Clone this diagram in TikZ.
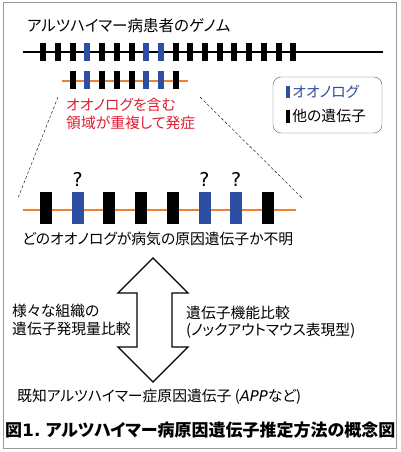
\documentclass[tikz,border=0pt]{standalone}
\usepackage{fontspec}
\setmainfont{Noto Sans CJK JP}[RawFeature=+palt]
\newfontfamily\latinfont{DejaVu Sans}
\usetikzlibrary{positioning}
\definecolor{ohnoblue}{RGB}{46,78,163}
\definecolor{segorange}{RGB}{240,128,48}
\definecolor{notered}{RGB}{222,30,50}
\tikzset{
    every node/.style={inner sep=0pt},
    gene/.style={fill=black, minimum width=6pt, minimum height=18pt},
    ohno/.style={gene, fill=ohnoblue},
    biggene/.style={fill=black, minimum width=12pt, minimum height=32pt},
    bigohno/.style={biggene, fill=ohnoblue},
    label/.style={anchor=west, font=\fontsize{14.8}{17.5}\selectfont},
    zoomline/.style={thin, densely dashed}
}
\begin{document}
\begin{tikzpicture}[x=1pt, y=-1pt]
    \useasboundingbox (0,0) rectangle (400,452);
    \draw[gray!80, line width=1pt] (3,3) rectangle (396,448);

    % genome of the patient
    \node[label, font=\fontsize{15.5}{18}\selectfont] (title) at (27,26) {アルツハイマー病患者のゲノム};
    \coordinate (gl) at (23,52);
    \coordinate (gr) at (383,52);
    \draw[line width=1.2pt] (gl) -- (gr);
    \foreach \i in {0,...,17} {
        \ifnum\i=3 \def\st{ohno}\else\ifnum\i=7 \def\st{ohno}\else\ifnum\i=8 \def\st{ohno}\else\def\st{gene}\fi\fi\fi
        \node[\st] (g\i) at ({43.3+14.7*\i},52) {};
    }

    % duplicated segment
    \coordinate (sl) at (62,81);
    \coordinate (sr) at (188,81);
    \draw[segorange, line width=1.2pt] (sl) -- (sr);
    \foreach \i in {2,...,9} {
        \ifnum\i=3 \def\st{ohno}\else\ifnum\i=7 \def\st{ohno}\else\ifnum\i=8 \def\st{ohno}\else\def\st{gene}\fi\fi\fi
        \node[\st] (s\i) at ({43.3+14.7*\i},80) {};
    }
    \node[label, text=notered, align=left] (dup) at (66,114) {オオノログを含む\\領域が重複して発症};

    % legend
    \node[draw=gray!70!black, rounded corners=8pt, minimum width=109pt, minimum height=56pt] (legend) at (327.5,105) {};
    \node[fill=ohnoblue, minimum width=4pt, minimum height=12pt] (lb) at (288,92) {};
    \node[label, text=ohnoblue, right=2pt of lb] (lbt) {オオノログ};
    \node[fill=black, minimum width=4pt, minimum height=13pt] (lk) at (288,116) {};
    \node[label, right=2pt of lk] (lkt) {他の遺伝子};

    % zoomed segment
    \coordinate (zl) at (23,210);
    \coordinate (zr) at (296,210);
    \coordinate (zlt) at (18,198);
    \coordinate (zrt) at (302,198);
    \coordinate (dl) at (58,97);
    \coordinate (dr) at (200,97);
    \draw[zoomline] (dl) -- (zlt);
    \draw[zoomline] (dr) -- (zrt);
    \draw[segorange, line width=1.5pt] (zl) -- (zr);
    \foreach \i in {0,...,7} {
        \ifnum\i=1 \def\st{bigohno}\else\ifnum\i=5 \def\st{bigohno}\else\ifnum\i=6 \def\st{bigohno}\else\def\st{biggene}\fi\fi\fi
        \node[\st] (z\i) at ({46+31.7*\i},208) {};
    }
    \foreach \i in {1,5,6}
        \node[font=\latinfont\fontsize{19}{21}\selectfont, above=5pt of z\i] (q\i) {?};
    \node[label] (unknown) at (22,239) {どのオオノログが病気の原因遺伝子か不明};

    % double arrow
    \draw[line width=1.3pt, line join=miter]
        (153,258) -- (188,293) -- (172,293) -- (172,347) -- (188,347) -- (153,382)
        -- (118,347) -- (137,347) -- (137,293) -- (118,293) -- cycle;
    \node[label, align=left] (expr) at (12,320) {様々な組織の\\遺伝子発現量比較};
    \node[label, align=left] (func) at (186,322) {遺伝子機能比較\\(ノックアウトマウス表現型)};

    \node[label] (known) at (17,397) {既知アルツハイマー症原因遺伝子 ({\latinfont\itshape APP}など)};
    \node[label, font=\fontsize{17}{19}\bfseries] (caption) at (5,430) {図{\latinfont 1.} アルツハイマー病原因遺伝子推定方法の概念図};
\end{tikzpicture}
\end{document}
